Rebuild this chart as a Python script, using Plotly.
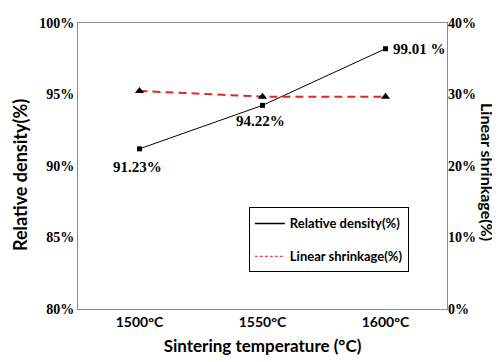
import plotly.graph_objects as go

temps = ["1500°C", "1550°C", "1600°C"]
density = [91.2, 94.24, 98.2]          # plotted positions
density_labels = ["91.23%", "94.22%", "99.01 %"]
shrinkage = [30.5, 29.7, 29.7]

SANS = "Lato, 'Open Sans', sans-serif"
SERIF = "'Liberation Serif', 'Times New Roman', serif"
RED = "#e3262a"

fig = go.Figure()
fig.add_trace(go.Scatter(
    x=temps, y=density, mode="lines+markers",
    line=dict(color="black", width=1),
    marker=dict(symbol="square", size=5, color="black"),
    showlegend=False, yaxis="y"))
fig.add_trace(go.Scatter(
    x=temps, y=shrinkage, mode="lines+markers",
    line=dict(color=RED, width=2, dash="8px,5px"),
    marker=dict(symbol="triangle-up", size=8, color="black"),
    showlegend=False, yaxis="y2"))
# legend-only entries (no markers, like the reference)
fig.add_trace(go.Scatter(x=[None], y=[None], mode="lines", name="Relative density(%)",
                         line=dict(color="black", width=1.5), legendgroup="a"))
fig.add_trace(go.Scatter(x=[None], y=[None], mode="lines", name="Linear shrinkage(%)",
                         line=dict(color=RED, width=1, dash="3px,2px"), legendgroup="b"))

annotations = []
offsets = [(-2, 18, "center"), (-2, 16, "center"), (5, 0, "left")]
for t, v, lab, (dx, dy, anc) in zip(temps, density, density_labels, offsets):
    annotations.append(dict(x=t, y=v, xref="x", yref="y", text=lab, showarrow=False,
                            xanchor=anc, yanchor="middle", xshift=dx, yshift=-dy,
                            font=dict(family=SERIF, size=15, color="black", weight="bold")))
annotations.append(dict(x=0, y=0.5, xref="paper", yref="paper", text="Relative density(%)",
                        textangle=-90, showarrow=False, xanchor="center", yanchor="middle",
                        xshift=-58, yshift=-9,
                        font=dict(family=SANS, size=18, color="black", weight="bold")))
annotations.append(dict(x=1, y=0.5, xref="paper", yref="paper", text="Linear shrinkage(%)",
                        textangle=90, showarrow=False, xanchor="center", yanchor="middle",
                        xshift=41, yshift=-6,
                        font=dict(family=SANS, size=16, color="black", weight="bold")))

fig.update_layout(
    width=500, height=362,
    margin=dict(l=70, r=61, t=8, b=61),
    paper_bgcolor="white", plot_bgcolor="white",
    xaxis=dict(type="category", range=[-0.5, 2.5], showgrid=False, zeroline=False,
               showline=True, linecolor="#8c8c8c", linewidth=1, mirror=True, ticks="",
               tickfont=dict(family=SANS, size=14, color="black", weight="bold"),
               title=dict(text="Sintering temperature (°C)", standoff=11,
                          font=dict(family=SANS, size=17, color="black", weight="bold"))),
    yaxis=dict(range=[80, 100], dtick=5, ticksuffix="%", showgrid=False, zeroline=False,
               showline=True, linecolor="#8c8c8c", linewidth=1, mirror=True, ticks="",
               tickfont=dict(family=SERIF, size=14, color="black", weight="bold")),
    yaxis2=dict(range=[0, 40], dtick=10, ticksuffix="%", overlaying="y", side="right",
                showgrid=False, zeroline=False, showline=False, ticks="",
                tickfont=dict(family=SERIF, size=14, color="black", weight="bold")),
    legend=dict(x=0.463, y=0.355, xanchor="left", yanchor="top",
                bordercolor="black", borderwidth=1, bgcolor="white",
                traceorder="grouped", tracegroupgap=13, itemwidth=30,
                font=dict(family=SANS, size=13, color="black", weight="bold")),
    annotations=annotations,
)

fig.write_html("out.html")
